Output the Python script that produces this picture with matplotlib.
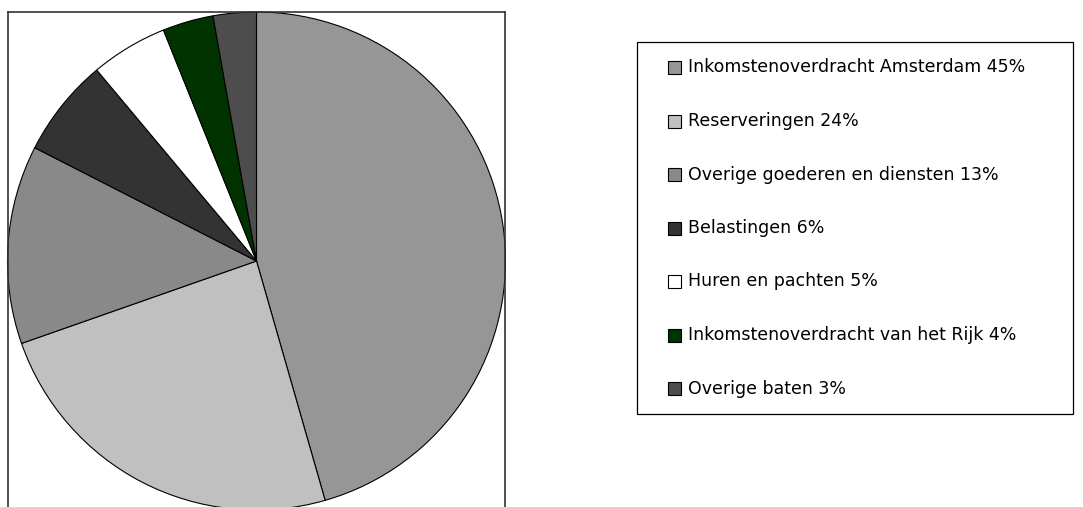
import matplotlib
matplotlib.use("Agg")
import matplotlib.pyplot as plt
from matplotlib.patches import Rectangle
from matplotlib.lines import Line2D

W, H = 1083, 507
DPI = 100

labels = ["Inkomstenoverdracht Amsterdam 45%", "Reserveringen 24%",
          "Overige goederen en diensten 13%", "Belastingen 6%",
          "Huren en pachten 5%", "Inkomstenoverdracht van het Rijk 4%",
          "Overige baten 3%"]
shares = [45.6, 24.1, 12.9, 6.4, 5.0, 3.3, 2.8]
colors = ["#969696", "#C0C0C0", "#898989", "#333333", "#FFFFFF", "#003300", "#4D4D4D"]

fig = plt.figure(figsize=(W / DPI, H / DPI), dpi=DPI)
fig.patch.set_facecolor("white")

def fx(x):
    return x / W

def fy(y):
    return 1 - y / H

# plot area box: x 8..505, y 12..510 (bottom off-figure)
left, right, top, bottom = 8, 505, 12, 510
ax = fig.add_axes([fx(left), fy(bottom), (right - left) / W, (bottom - top) / H])
ax.pie(shares, colors=colors, startangle=90, counterclock=False, radius=1.0,
       wedgeprops=dict(edgecolor="black", linewidth=0.8))
r_px = 249.0
cx = (left + right) / 2
ax.set_aspect("auto")
ax.set_xlim(-(cx - left) / r_px, (right - cx) / r_px)
ax.set_ylim(-(bottom - 261) / r_px, (261 - top) / r_px)
ax.set_axis_off()

# plot-area frame (left, top, right edges; bottom lies outside the image)
frame_kw = dict(transform=fig.transFigure, color="#333333", linewidth=1.2)
fig.lines.append(Line2D([fx(left), fx(left)], [fy(top), fy(bottom)], **frame_kw))
fig.lines.append(Line2D([fx(left), fx(right)], [fy(top), fy(top)], **frame_kw))
fig.lines.append(Line2D([fx(right), fx(right)], [fy(top), fy(bottom)], **frame_kw))

# legend box
lx0, lx1, ly0, ly1 = 637, 1073, 42, 414
fig.patches.append(Rectangle((fx(lx0), fy(ly1)), (lx1 - lx0) / W, (ly1 - ly0) / H,
                             transform=fig.transFigure, facecolor="white",
                             edgecolor="black", linewidth=0.9))
row_y = [67.3, 121, 174.5, 228, 281.5, 335, 388.5]
for lab, col, yy in zip(labels, colors, row_y):
    fig.patches.append(Rectangle((fx(668), fy(yy + 6.5)), 13 / W, 13 / H,
                                 transform=fig.transFigure, facecolor=col,
                                 edgecolor="black", linewidth=0.8))
    fig.text(fx(688), fy(yy), lab, ha="left", va="center",
             fontsize=12.5, family=["DejaVu Sans"], color="black")

fig.savefig("out.png", dpi=DPI)
